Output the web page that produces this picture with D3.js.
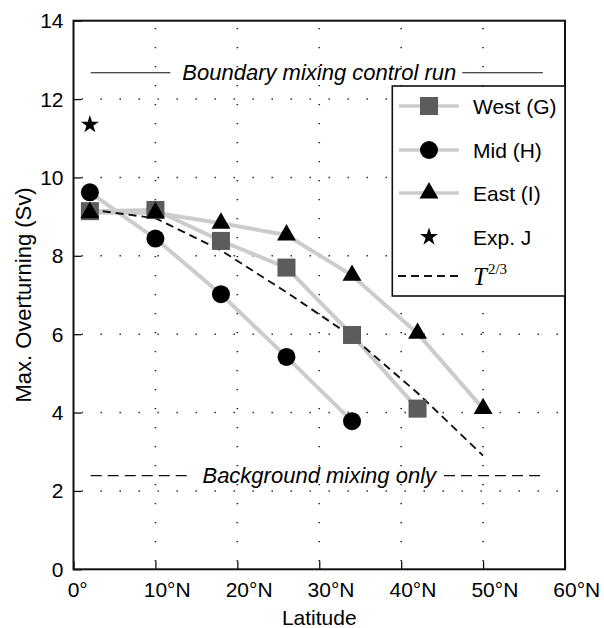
<!DOCTYPE html>
<html>
<head>
<meta charset="utf-8">
<script src="https://cdn.jsdelivr.net/npm/d3@7"></script>
<style>
  html, body { margin: 0; padding: 0; background: #fff; }
  svg { display: block; font-family: "Liberation Sans", Arial, Helvetica, sans-serif; }
</style>
</head>
<body>
<svg id="chart" width="604" height="628"></svg>
<script>
// Latitudes (degrees N) of the experiment sections
const latitudes = [2, 10, 18, 26, 34, 42, 50];
// Maximum overturning (Sv) per experiment series
const westValues = [9.14, 9.17, 8.38, 7.70, 5.98, 4.10];
const midValues = [9.62, 8.44, 7.02, 5.42, 3.78];
const eastValues = [9.10, 9.10, 8.83, 8.53, 7.50, 6.02, 4.10];
const expJLatitude = [2];
const expJValues = [11.35];
// T^(2/3) scaling curve
const scalingValues = [9.18, 8.96, 8.14, 7.07, 5.94, 4.50, 2.90];
// Reference runs
const boundaryRunValue = 12.67;
const backgroundRunValue = 2.39;
// Axis ticks
const xTicks = [0, 10, 20, 30, 40, 50, 60];
const xTickLabels = ["0°", "10°N", "20°N", "30°N", "40°N", "50°N", "60°N"];
const yTicks = [0, 2, 4, 6, 8, 10, 12, 14];

const svg = d3.select("#chart");
const plotLeft = 73.5, plotRight = 565, plotTop = 20.7, plotBottom = 569.3;
const fs = 21;

const x = d3.scaleLinear().domain([0, 60]).range([plotLeft, plotRight]);
const y = d3.scaleLinear().domain([0, 14]).range([plotBottom, plotTop]);

// Dotted grid
const grid = svg.append("g")
  .attr("stroke", "#222").attr("stroke-width", 1.6)
  .attr("stroke-dasharray", "1.4,17.6");
grid.selectAll("line.v").data(xTicks.filter(d => d > 0 && d < 60)).join("line")
  .attr("class", "v")
  .attr("x1", d => x(d)).attr("x2", d => x(d))
  .attr("y1", plotBottom - 8).attr("y2", plotTop);
grid.selectAll("line.h").data(yTicks.filter(d => d > 0 && d < 14)).join("line")
  .attr("class", "h")
  .attr("y1", d => y(d)).attr("y2", d => y(d))
  .attr("x1", plotLeft + 8).attr("x2", plotRight);

// Axes with inward ticks
const xAxis = d3.axisBottom(x).tickValues(xTicks).tickSizeInner(-8).tickSizeOuter(0).tickFormat("");
const yAxis = d3.axisLeft(y).tickValues(yTicks).tickSizeInner(-8).tickSizeOuter(0).tickFormat("");
const gx = svg.append("g").attr("transform", `translate(0,${plotBottom})`).call(xAxis);
const gy = svg.append("g").attr("transform", `translate(${plotLeft},0)`).call(yAxis);
[gx, gy].forEach(g => {
  g.select(".domain").remove();
  g.selectAll(".tick line").attr("stroke", "#111").attr("stroke-width", 1.3);
});

// Frame
svg.append("rect")
  .attr("x", plotLeft).attr("y", plotTop)
  .attr("width", plotRight - plotLeft).attr("height", plotBottom - plotTop)
  .attr("fill", "none").attr("stroke", "#111").attr("stroke-width", 2);

// Y tick labels
svg.append("g").selectAll("text").data(yTicks).join("text")
  .attr("x", 63.5).attr("y", d => y(d))
  .attr("text-anchor", "end").attr("dominant-baseline", "central")
  .attr("font-size", fs).text(d => d);

// X tick labels: numeric part centred on the tick, suffix trailing
const xl = svg.append("g");
xTicks.forEach((t, i) => {
  const label = xTickLabels[i];
  const num = label.replace(/[^0-9]/g, "");
  const probe = xl.append("text").attr("font-size", fs).text(num);
  const w = probe.node().getComputedTextLength();
  probe.remove();
  xl.append("text")
    .attr("x", x(t) - w / 2).attr("y", 597)
    .attr("font-size", fs).text(label);
});

// Axis titles
svg.append("text")
  .attr("x", (plotLeft + plotRight) / 2).attr("y", 625)
  .attr("text-anchor", "middle").attr("font-size", fs).text("Latitude");
svg.append("text")
  .attr("transform", `translate(31,${(plotTop + plotBottom) / 2}) rotate(-90)`)
  .attr("text-anchor", "middle").attr("font-size", 22).text("Max. Overturning (Sv)");

// Reference run annotations with line segments either side of the text
function referenceLine(value, label, dash) {
  const g = svg.append("g");
  const yy = y(value);
  const t = g.append("text")
    .attr("x", (plotLeft + plotRight) / 2).attr("y", yy)
    .attr("text-anchor", "middle").attr("dominant-baseline", "central")
    .attr("font-size", 22).attr("font-style", "italic").text(label);
  const bb = t.node().getBBox();
  const segs = [[x(2.1), bb.x - 12], [bb.x + bb.width + 6, x(57.3)]];
  g.selectAll("line").data(segs).join("line")
    .attr("x1", d => d[0]).attr("x2", d => d[1])
    .attr("y1", yy).attr("y2", yy)
    .attr("stroke", "#111").attr("stroke-width", dash ? 1.4 : 1.1)
    .attr("stroke-dasharray", dash || null);
}
referenceLine(boundaryRunValue, "Boundary mixing control run", null);
referenceLine(backgroundRunValue, "Background mixing only", "11,6");

// Series connecting lines
const grey = "#cccccc";
const line = d3.line().x(d => x(d[0])).y(d => y(d[1]));
const series = [
  { values: westValues, shape: "square" },
  { values: midValues, shape: "circle" },
  { values: eastValues, shape: "triangle" }
];
svg.append("g").selectAll("path").data(series).join("path")
  .attr("d", s => line(s.values.map((v, i) => [latitudes[i], v])))
  .attr("fill", "none").attr("stroke", grey).attr("stroke-width", 4)
  .attr("stroke-linejoin", "round");

// T^(2/3) scaling curve
svg.append("path")
  .attr("d", line(scalingValues.map((v, i) => [latitudes[i], v])))
  .attr("fill", "none").attr("stroke", "#111").attr("stroke-width", 1.9)
  .attr("stroke-dasharray", "8,5");

// Marker drawing
function drawMarker(g, shape, cx, cy) {
  if (shape === "square") {
    g.append("rect").attr("x", cx - 9).attr("y", cy - 9)
      .attr("width", 18).attr("height", 18).attr("fill", "#5c5c5c");
  } else if (shape === "circle") {
    g.append("circle").attr("cx", cx).attr("cy", cy).attr("r", 9).attr("fill", "#000");
  } else if (shape === "triangle") {
    g.append("path").attr("transform", `translate(${cx},${cy})`)
      .attr("d", d3.symbol(d3.symbolTriangle, 155)()).attr("fill", "#000");
  } else if (shape === "star") {
    g.append("path").attr("transform", `translate(${cx},${cy})`)
      .attr("d", d3.symbol(d3.symbolStar, 100)()).attr("fill", "#000");
  }
}
const markers = svg.append("g");
series.forEach(s => s.values.forEach((v, i) => drawMarker(markers, s.shape, x(latitudes[i]), y(v))));
expJValues.forEach((v, i) => drawMarker(markers, "star", x(expJLatitude[i]), y(v)));

// Legend
const legend = svg.append("g");
legend.append("rect")
  .attr("x", 392.3).attr("y", 86).attr("width", plotRight - 392.3).attr("height", 210)
  .attr("fill", "#fff").attr("stroke", "#111").attr("stroke-width", 1.6);
const legendItems = [
  { label: "West (G)", shape: "square", ly: 106, line: true },
  { label: "Mid (H)", shape: "circle", ly: 150, line: true },
  { label: "East (I)", shape: "triangle", ly: 193, line: true },
  { label: "Exp. J", shape: "star", ly: 237, line: false }
];
legendItems.forEach(it => {
  if (it.line) {
    legend.append("line").attr("x1", 399).attr("x2", 459)
      .attr("y1", it.ly).attr("y2", it.ly)
      .attr("stroke", grey).attr("stroke-width", 3.5);
  }
  drawMarker(legend, it.shape, 429, it.ly);
  legend.append("text").attr("x", 473).attr("y", it.ly)
    .attr("dominant-baseline", "central").attr("font-size", fs).text(it.label);
});
legend.append("line").attr("x1", 398).attr("x2", 460)
  .attr("y1", 276).attr("y2", 276)
  .attr("stroke", "#111").attr("stroke-width", 1.9).attr("stroke-dasharray", "8,5");
const tl = legend.append("text").attr("x", 473).attr("y", 285)
  .attr("font-family", "'Liberation Serif', 'Times New Roman', serif");
tl.append("tspan").attr("font-style", "italic").attr("font-size", 25).text("T");
tl.append("tspan").attr("font-size", 15).attr("dy", -11).attr("dx", 1).text("2/3");
</script>
</body>
</html>
